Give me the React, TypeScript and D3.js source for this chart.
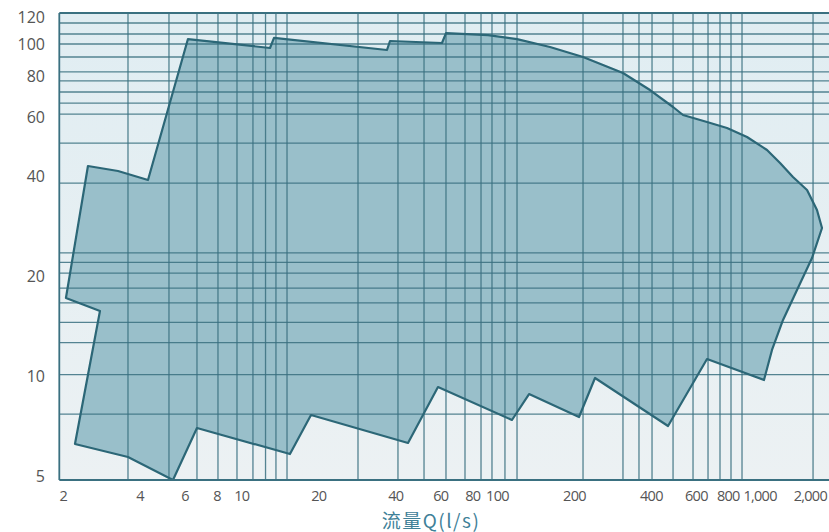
import React from "react";
import * as d3 from "d3";

// Outline of the operating range (flow Q in l/s, head H in m)
const flowQ = [
  2.087, 2.545, 3.336, 4.371, 6.265, 13.12, 13.6, 37.63, 38.66, 61.76, 64.02, 93.47,
  121.4, 163.4, 220.0, 315.3, 402.2, 495.0, 541.5, 672.2, 804.8, 963.8, 1154, 1298,
  1458, 1655, 1810, 1894, 1731, 1512, 1333, 1207, 1123, 672.2, 473.1, 245.1, 212.2,
  135.3, 116.0, 59.57, 45.47, 18.98, 15.7, 6.795, 5.474, 3.65, 2.264, 2.836,
];
const headH = [
  17.18, 42.91, 41.45, 38.94, 103.5, 97.27, 104.3, 95.92, 102.1, 100.7, 107.9, 106.4,
  103.5, 97.95, 91.38, 81.76, 72.68, 64.61, 61.12, 58.22, 55.85, 52.48, 47.94, 43.82,
  39.76, 36.33, 31.62, 27.91, 22.67, 18.16, 14.75, 11.98, 9.726, 11.25, 7.072, 9.862,
  7.525, 8.826, 7.372, 9.266, 6.285, 7.631, 5.821, 6.973, 4.862, 5.702, 6.241, 15.7,
];

const xTicks = [2, 4, 6, 8, 10, 20, 40, 60, 80, 100, 200, 400, 600, 800, 1000, 2000];
const yTicks = [5, 10, 20, 40, 60, 80, 100, 120];

const vGrid = [
  3.65, 5.28, 6.795, 8.21, 9.743, 11.25, 12.6, 13.84, 15.29, 28.98, 41.54, 52.53, 64.02,
  75.98, 87.77, 96.89, 108.9, 121.4, 220.0, 315.3, 364.2, 409.6, 495.0, 592.6, 678.3,
  755.6, 834.3, 921.3, 1747,
];
const hGrid = [
  115.7, 107.2, 100, 91.4, 82.4, 77.4, 71.7, 66.4, 61.5, 50.3, 38.1, 23.5, 22.0, 20.4,
  18.4, 16.6, 14.5, 12.6, 10.1, 7.68,
];

const xDomain = [1.966, 2017];
const yDomain = [4.862, 124];
const xTitle = "流量Q(l/s)";

const W = 829;
const H = 532;
const left = 59.3;
const right = 829;
const top = 13;
const bottom = 480;

export default function App() {
  const x = d3.scaleLog().domain(xDomain).range([left, right]);
  const y = d3.scaleLog().domain(yDomain).range([bottom, top]);
  const pts: [number, number][] = flowQ.map((q, i) => [q, headH[i]]);
  const area = d3
    .line<[number, number]>()
    .x((d) => x(d[0]))
    .y((d) => y(d[1]))
    .curve(d3.curveLinearClosed)(pts) as string;
  const fmt = d3.format(",");
  const gridColor = "#3a7080";
  const font = "'Open Sans', 'Noto Sans', sans-serif";

  return (
    <>
      <style>{`body{margin:0;background:#fff}`}</style>
      <svg width={W} height={H} style={{ display: "block" }}>
        <defs>
          <linearGradient id="bg" x1="0" y1="0" x2="0" y2="1">
            <stop offset="0%" stopColor="#e0edf2" />
            <stop offset="100%" stopColor="#ecf1f3" />
          </linearGradient>
          <clipPath id="plot">
            <rect x={left} y={top} width={right - left} height={bottom - top} />
          </clipPath>
        </defs>
        <rect x={left} y={top} width={right - left} height={bottom - top} fill="url(#bg)" />
        <g clipPath="url(#plot)">
          <path d={area} fill="#99bfca" stroke="none" />
          {hGrid.map((v, i) => (
            <line
              key={"h" + i}
              x1={left}
              x2={right}
              y1={y(v)}
              y2={y(v)}
              stroke={gridColor}
              strokeWidth={1.3}
              opacity={0.85}
            />
          ))}
          {vGrid.map((v, i) => (
            <line
              key={"v" + i}
              x1={x(v)}
              x2={x(v)}
              y1={top}
              y2={bottom}
              stroke={gridColor}
              strokeWidth={1.3}
              opacity={0.85}
            />
          ))}
          <path d={area} fill="none" stroke="#2c6777" strokeWidth={2.2} strokeLinejoin="round" />
        </g>
        <line x1={left} x2={right} y1={top} y2={top} stroke={gridColor} strokeWidth={1.8} />
        <line x1={left} x2={right} y1={bottom} y2={bottom} stroke={gridColor} strokeWidth={2} />
        <line x1={left} x2={left} y1={top} y2={bottom} stroke={gridColor} strokeWidth={1.8} />
        {yTicks.map((v) => (
          <text
            key={"yt" + v}
            x={45}
            y={y(v)}
            dy="0.36em"
            textAnchor="end"
            fontFamily={font}
            fontSize={16}
            fill="#555"
          >
            {v}
          </text>
        ))}
        {xTicks.map((v, i) => {
          const last = i === xTicks.length - 1;
          return (
            <text
              key={"xt" + v}
              x={x(v)}
              dx={last ? -1 : v >= 1000 ? 9 : 2}
              y={501}
              textAnchor={last ? "end" : "middle"}
              fontFamily={font}
              fontSize={14.5}
              letterSpacing={-0.7}
              fill="#555"
            >
              {fmt(v)}
            </text>
          );
        })}
        <text
          x={431}
          y={528}
          textAnchor="middle"
          fontFamily="'Noto Sans CJK SC', 'Noto Sans', sans-serif"
          fontSize={19}
          letterSpacing={1.5}
          fill="#3f8198"
        >
          {xTitle}
        </text>
      </svg>
    </>
  );
}
